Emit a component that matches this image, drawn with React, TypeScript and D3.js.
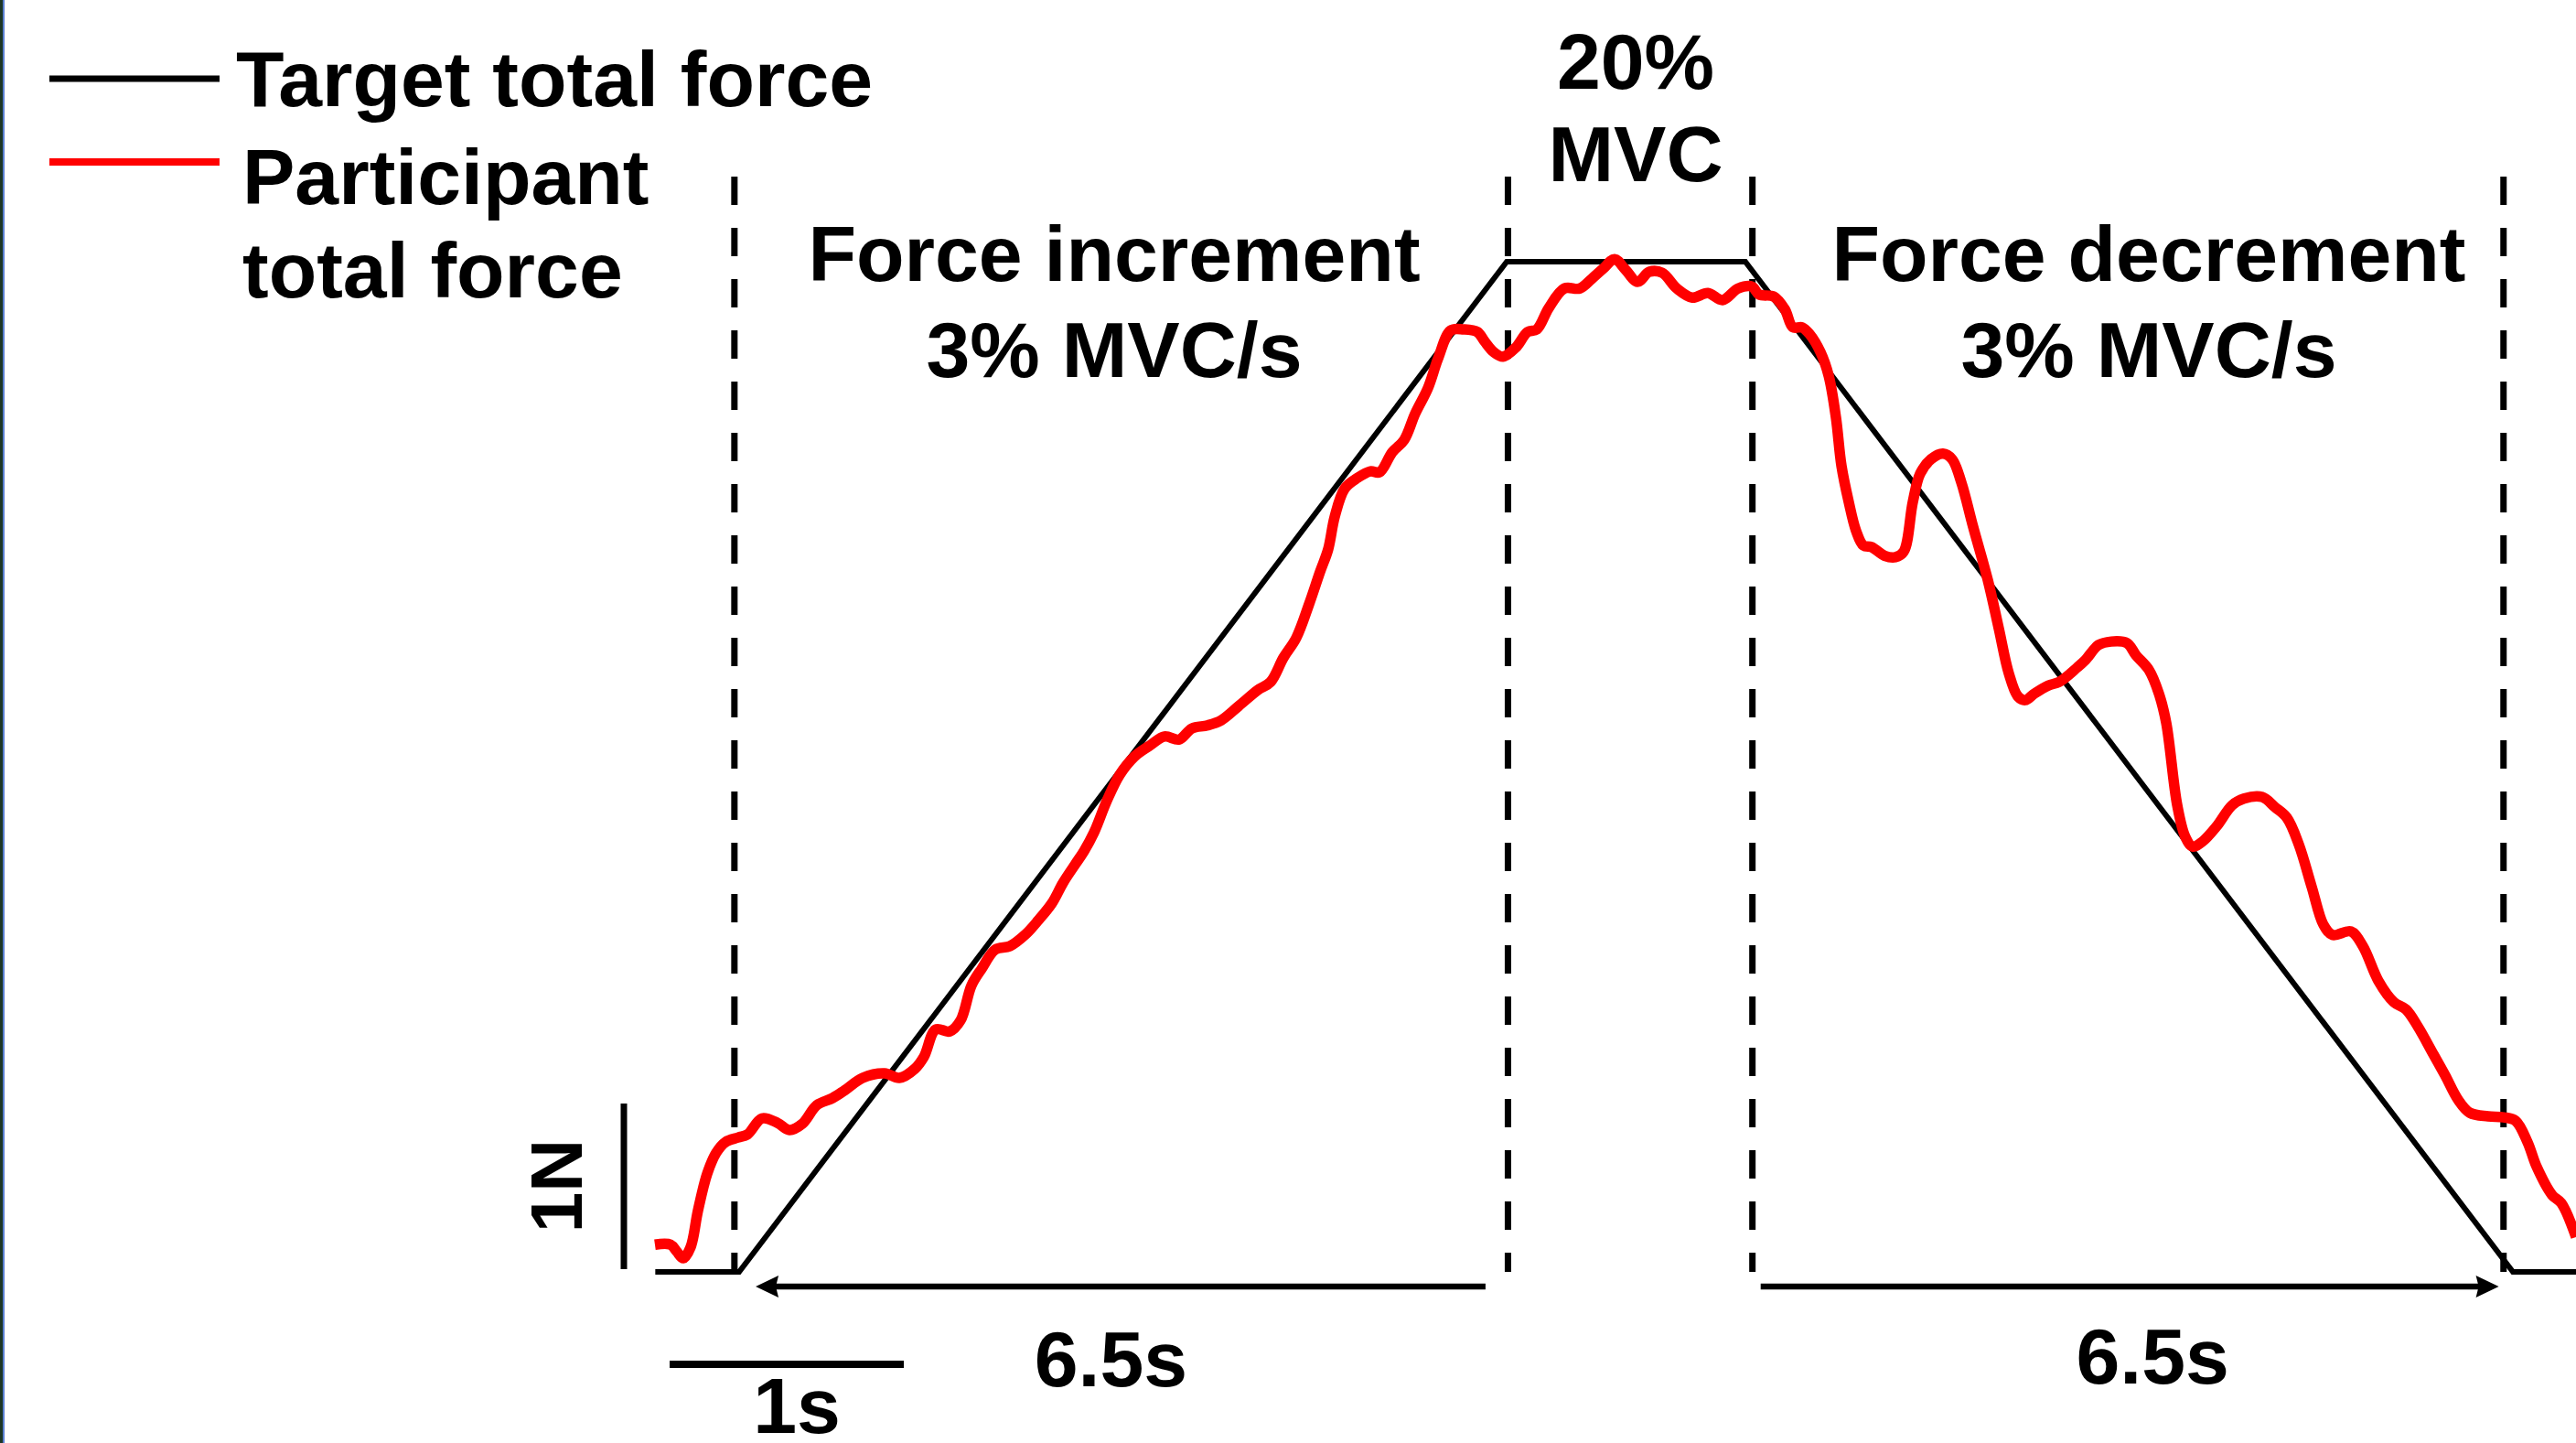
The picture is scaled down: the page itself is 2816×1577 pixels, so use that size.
import React from 'react';
import * as d3 from 'd3';

const W = 2816;
const H = 1577;

// Target profile: time (s) and force (%MVC)
const targetTime = [-0.71, 0, 6.5, 8.52, 15.02, 15.6];
const targetForce = [0, 0, 20, 20, 0, 0];

// Participant trace: time (s) and force (%MVC)
const traceTime = [
  -0.713, -0.581, -0.527, -0.473, -0.411, -0.349, -0.271, -0.194, -0.116, -0.008,
  0.070, 0.194, 0.325, 0.426, 0.534, 0.658, 0.790, 0.891, 1.046, 1.232,
  1.356, 1.487, 1.565, 1.665, 1.782, 1.875, 1.967, 2.053, 2.169, 2.293,
  2.424, 2.533, 2.649, 2.742, 2.843, 2.920, 3.005, 3.114, 3.222, 3.346,
  3.478, 3.602, 3.726, 3.834, 3.966, 4.082, 4.229, 4.392, 4.500, 4.609,
  4.717, 4.826, 4.919, 4.988, 5.043, 5.128, 5.236, 5.345, 5.422, 5.531,
  5.631, 5.724, 5.833, 5.918, 6.026, 6.135, 6.251, 6.313, 6.390, 6.468,
  6.576, 6.677, 6.755, 6.855, 6.987, 7.118, 7.219, 7.320, 7.413, 7.506,
  7.607, 7.707, 7.816, 7.940, 8.071, 8.203, 8.327, 8.459, 8.575, 8.637,
  8.761, 8.854, 8.923, 9.001, 9.063, 9.156, 9.226, 9.287, 9.334, 9.396,
  9.458, 9.520, 9.589, 9.698, 9.791, 9.861, 9.938, 10.000, 10.093, 10.194,
  10.271, 10.349, 10.449, 10.573, 10.666, 10.751, 10.829, 10.891, 10.968, 11.085,
  11.178, 11.332, 11.402, 11.510, 11.619, 11.751, 11.828, 11.937, 12.022, 12.084,
  12.177, 12.246, 12.308, 12.386, 12.510, 12.642, 12.742, 12.897, 13.005, 13.106,
  13.207, 13.315, 13.416, 13.493, 13.648, 13.749, 13.881, 14.012, 14.113, 14.214,
  14.346, 14.446, 14.555, 14.655, 14.810, 14.942, 15.043, 15.143, 15.221, 15.352,
  15.430, 15.554,
];
const traceForce = [
  0.54, 0.54, 0.40, 0.27, 0.49, 1.21, 1.94, 2.36, 2.57, 2.66,
  2.72, 3.04, 2.95, 2.81, 2.93, 3.30, 3.44, 3.59, 3.84, 3.93,
  3.84, 4.02, 4.26, 4.80, 4.76, 4.98, 5.67, 6.00, 6.38, 6.45,
  6.68, 6.96, 7.30, 7.70, 8.06, 8.33, 8.70, 9.33, 9.84, 10.20,
  10.42, 10.60, 10.54, 10.76, 10.82, 10.92, 11.20, 11.52, 11.68, 12.16,
  12.55, 13.22, 13.86, 14.31, 14.95, 15.51, 15.72, 15.85, 15.83, 16.23,
  16.47, 16.99, 17.50, 18.08, 18.64, 18.66, 18.61, 18.42, 18.21, 18.12,
  18.30, 18.61, 18.66, 19.08, 19.47, 19.47, 19.66, 19.87, 20.05, 19.84,
  19.60, 19.80, 19.78, 19.47, 19.29, 19.38, 19.24, 19.47, 19.51, 19.35,
  19.31, 19.06, 18.70, 18.70, 18.57, 18.21, 17.74, 16.92, 15.96, 15.24,
  14.67, 14.38, 14.35, 14.18, 14.15, 14.26, 15.24, 15.80, 16.09, 16.20,
  16.09, 15.63, 14.75, 13.70, 12.74, 11.85, 11.39, 11.32, 11.45, 11.61,
  11.68, 11.97, 12.12, 12.41, 12.48, 12.45, 12.21, 11.92, 11.45, 10.87,
  9.24, 8.61, 8.42, 8.51, 8.82, 9.24, 9.37, 9.40, 9.20, 8.99,
  8.46, 7.63, 6.87, 6.67, 6.74, 6.45, 5.76, 5.34, 5.20, 4.86,
  4.31, 3.89, 3.41, 3.15, 3.08, 3.06, 2.99, 2.57, 2.08, 1.52,
  1.36, 0.69,
];

// Phase boundaries (dashed lines), s
const phaseBoundaries = [-0.04, 6.51, 8.58, 14.94];
// Duration arrows: [start, end] in s
const durationArrows = [
  [0.14, 6.32],
  [8.65, 14.9],
];
// Label centre times for the duration labels
const durationLabelTimes = [3.148, 11.969];
const durationLabels = ['6.5s', '6.5s'];
const legendLabels = ['Target total force', 'Participant', 'total force'];
const phaseTitles = ['Force increment', '20%', 'Force decrement'];
const phaseSubtitles = ['3% MVC/s', 'MVC', '3% MVC/s'];

const FONT = "'Liberation Sans', Arial, Helvetica, sans-serif";

export default function App() {
  const x = d3.scaleLinear().domain([0, 15]).range([808, 808 + 15 * 129.1]);
  const y = d3.scaleLinear().domain([0, 20]).range([1390, 286]);

  const targetPts: [number, number][] = targetTime.map((t, i) => [t, targetForce[i]]);
  const n = Math.min(traceTime.length, traceForce.length);
  const tracePts: [number, number][] = d3.range(n).map((i) => [traceTime[i], traceForce[i]]);

  const targetLine = d3
    .line<[number, number]>()
    .x((d) => x(d[0]))
    .y((d) => y(d[1]));
  const traceLine = d3
    .line<[number, number]>()
    .x((d) => x(d[0]))
    .y((d) => y(d[1]))
    .curve(d3.curveCatmullRom.alpha(0.5));

  const arrowY = 1406;
  const head = (tipX: number, dir: number) => {
    const L = 25;
    const hw = 12;
    const notch = 3;
    const bx = tipX - dir * L;
    return `M${tipX},${arrowY} L${bx},${arrowY - hw} L${bx + dir * notch},${arrowY} L${bx},${arrowY + hw} Z`;
  };

  const textStyle = {
    fontFamily: FONT,
    fontWeight: 700 as const,
    fontSize: 86,
    fill: '#000',
  };

  return (
    <svg
      width={W}
      height={H}
      viewBox={`0 0 ${W} ${H}`}
      style={{ position: 'absolute', left: 0, top: 0, background: '#fff' }}
    >
      <rect x={0} y={0} width={W} height={H} fill="#fff" />
      {/* left edge stripe */}
      <rect x={0} y={0} width={3} height={H} fill="#1d3626" />
      <rect x={3} y={0} width={2} height={H} fill="#5a7fd0" />

      {/* dashed phase boundaries */}
      {phaseBoundaries.map((t, i) => (
        <line
          key={'d' + i}
          x1={x(t)}
          x2={x(t)}
          y1={193}
          y2={1390}
          stroke="#000"
          strokeWidth={7}
          strokeDasharray="31 25"
        />
      ))}

      {/* target */}
      <path d={targetLine(targetPts) || ''} fill="none" stroke="#000" strokeWidth={6} strokeLinejoin="miter" />

      {/* participant */}
      <path
        d={traceLine(tracePts) || ''}
        fill="none"
        stroke="#ff0000"
        strokeWidth={11.5}
        strokeLinejoin="round"
        strokeLinecap="butt"
      />

      {/* duration arrows */}
      {durationArrows.map(([a, b], i) => {
        const xa = x(a);
        const xb = x(b);
        const dir = i === 0 ? -1 : 1;
        const tip = i === 0 ? xa : xb;
        const tail = i === 0 ? xb : xa;
        return (
          <g key={'a' + i}>
            <line x1={tail} x2={tip - dir * 20} y1={arrowY} y2={arrowY} stroke="#000" strokeWidth={6.5} />
            <path d={head(tip, dir)} fill="#000" />
            <text x={x(durationLabelTimes[i])} y={i === 0 ? 1515 : 1512} textAnchor="middle" style={textStyle}>
              {durationLabels[i]}
            </text>
          </g>
        );
      })}

      {/* scale bars */}
      <line x1={682} x2={682} y1={1206} y2={1387} stroke="#000" strokeWidth={7} />
      <text transform="translate(636,1296) rotate(-90)" textAnchor="middle" style={{ ...textStyle, fontSize: 80 }}>
        1N
      </text>
      <line x1={732} x2={988} y1={1491} y2={1491} stroke="#000" strokeWidth={8} />
      <text x={871} y={1566} textAnchor="middle" style={textStyle}>
        1s
      </text>

      {/* phase labels */}
      <text x={1218} y={307} textAnchor="middle" style={textStyle}>
        {phaseTitles[0]}
      </text>
      <text x={1218} y={412} textAnchor="middle" style={textStyle}>
        {phaseSubtitles[0]}
      </text>
      <text x={1788} y={97} textAnchor="middle" style={textStyle}>
        {phaseTitles[1]}
      </text>
      <text x={1788} y={198} textAnchor="middle" style={textStyle}>
        {phaseSubtitles[1]}
      </text>
      <text x={2349} y={307} textAnchor="middle" style={textStyle}>
        {phaseTitles[2]}
      </text>
      <text x={2349} y={412} textAnchor="middle" style={textStyle}>
        {phaseSubtitles[2]}
      </text>

      {/* legend */}
      <line x1={54} x2={240} y1={86} y2={86} stroke="#000" strokeWidth={7} />
      <line x1={54} x2={240} y1={177} y2={177} stroke="#ff0000" strokeWidth={8} />
      <text x={258} y={116} style={textStyle}>
        {legendLabels[0]}
      </text>
      <text x={265} y={223} style={textStyle}>
        {legendLabels[1]}
      </text>
      <text x={265} y={325} style={textStyle}>
        {legendLabels[2]}
      </text>
    </svg>
  );
}
